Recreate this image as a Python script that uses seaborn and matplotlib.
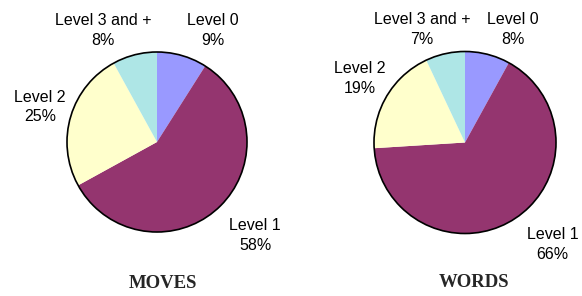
import matplotlib
matplotlib.use("Agg")
import matplotlib.pyplot as plt
import seaborn as sns
from matplotlib.patches import Circle

# === DATA ===
levels = ["Level 0", "Level 1", "Level 2", "Level 3 and +"]
moves_pct = [9, 58, 25, 8]
words_pct = [8, 66, 19, 7]
panel_titles = ["MOVES", "WORDS"]

# === STYLE ===
sns.set_theme(style="white")
plt.rcParams["font.family"] = ["Liberation Sans", "DejaVu Sans"]
colors = ["#9999FF", "#94356F", "#FFFFCC", "#AEE6E6"]

# label positions in pie-radius units (layout only)
label_pos = [
    [(0.62, 1.24), (1.09, -1.04), (-1.30, 0.39), (-0.60, 1.24)],
    [(0.53, 1.24), (0.96, -1.12), (-1.16, 0.70), (-0.47, 1.24)],
]
title_pos = [(0.07, -1.57), (0.10, -1.54)]
# axes geometry in pixels: (left, width, center_x, center_y, radius)
geom = [(0, 291, 157, 142, 90), (291, 291, 174, 142.5, 91)]

W, H = 582, 296
fig = plt.figure(figsize=(W / 100, H / 100), dpi=100, facecolor="white")

for i, values in enumerate([moves_pct, words_pct]):
    left, width, cx, cy, r = geom[i]
    ax = fig.add_axes([left / W, 0, width / W, 1])
    ax.axis("off")
    ax.pie(values, colors=colors, startangle=90, counterclock=False,
           radius=1, wedgeprops=dict(linewidth=0, antialiased=True))
    ax.add_patch(Circle((0, 0), 1, fill=False, edgecolor="black", linewidth=1.2))
    ax.set_aspect("auto")
    ax.set_xlim(-cx / r, (width - cx) / r)
    ax.set_ylim(-(H - cy) / r, cy / r)

    for j, name in enumerate(levels):
        x, y = label_pos[i][j]
        ax.text(x, y, f"{name}\n{values[j]}%", ha="center", va="center",
                fontsize=11.5, color="black", linespacing=1.4)

    tx, ty = title_pos[i]
    ax.text(tx, ty, panel_titles[i], ha="center", va="center", fontsize=13.5,
            fontweight="bold", family=["Liberation Serif", "DejaVu Serif"])

plt.savefig("out.png", dpi=100)
plt.close()
